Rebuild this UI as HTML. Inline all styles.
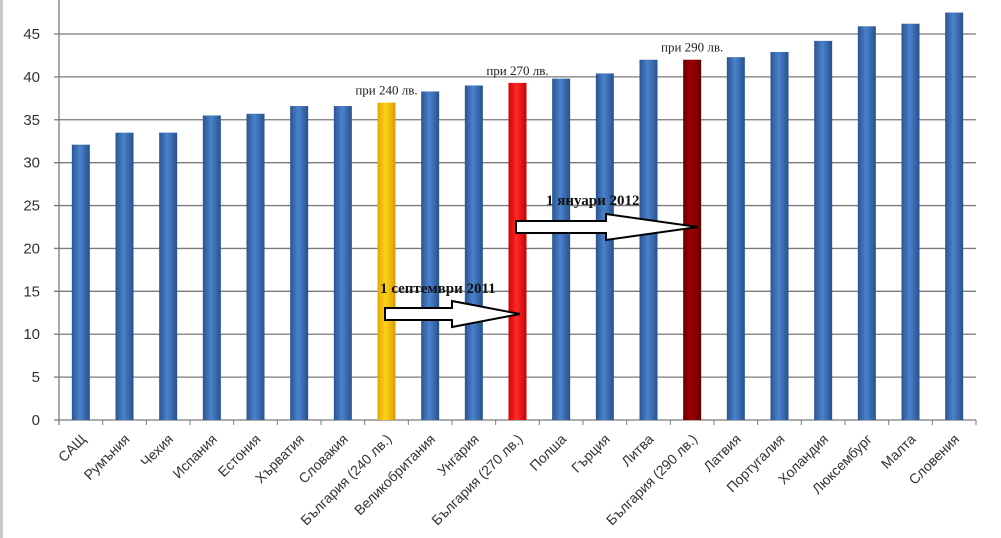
<!DOCTYPE html>
<html><head><meta charset="utf-8"><style>
body{margin:0;background:#fff;}
svg{display:block;font-family:"Liberation Sans","DejaVu Sans",sans-serif;}
</style></head><body>
<svg id="chart" width="1001" height="538">
<defs>
<linearGradient id="gb" x1="0" x2="1"><stop offset="0" stop-color="#2a5590"/><stop offset="0.45" stop-color="#4a82cc"/><stop offset="1" stop-color="#27518c"/></linearGradient>
<linearGradient id="gy" x1="0" x2="1"><stop offset="0" stop-color="#e0a800"/><stop offset="0.45" stop-color="#ffd21a"/><stop offset="1" stop-color="#d89c00"/></linearGradient>
<linearGradient id="gr" x1="0" x2="1"><stop offset="0" stop-color="#d40000"/><stop offset="0.45" stop-color="#ff2a2a"/><stop offset="1" stop-color="#c80000"/></linearGradient>
<linearGradient id="gd" x1="0" x2="1"><stop offset="0" stop-color="#6a0000"/><stop offset="0.45" stop-color="#a00000"/><stop offset="1" stop-color="#600000"/></linearGradient>
</defs>
<rect x="0" y="0" width="3" height="538" fill="#c8c8c8"/>
<g id="grid"></g><g id="bars"></g><g id="labels"></g>
</svg>
<script>
const categories=["САЩ","Румъния","Чехия","Испания","Естония","Хърватия","Словакия","България (240 лв.)","Великобритания","Унгария","България (270 лв.)","Полша","Гърция","Литва","България (290 лв.)","Латвия","Португалия","Холандия","Люксембург","Малта","Словения"];
const values=[32.1,33.5,33.5,35.5,35.7,36.6,36.6,37.0,38.3,39.0,39.3,39.8,40.4,42.0,42.0,42.3,42.9,44.2,45.9,46.2,47.5];
const fills=["gb","gb","gb","gb","gb","gb","gb","gy","gb","gb","gr","gb","gb","gb","gd","gb","gb","gb","gb","gb","gb"];
const yTicks=[0,5,10,15,20,25,30,35,40,45];
const notes=[{i:7,t:"при 240 лв."},{i:10,t:"при 270 лв."},{i:14,t:"при 290 лв."}];
const NS="http://www.w3.org/2000/svg";
const x0=59,x1=976,yBase=420,yTop=34,vMax=45;
const band=(x1-x0)/categories.length;
const y=v=>yBase-(v/vMax)*(yBase-yTop);
const xc=i=>x0+band*(i+0.5);
function mk(t,a,p){const e=document.createElementNS(NS,t);for(const k in a)e.setAttribute(k,a[k]);p.appendChild(e);return e;}
const grid=document.getElementById('grid'),bars=document.getElementById('bars'),lab=document.getElementById('labels');
yTicks.forEach(v=>{
 const l=mk('line',{x1:x0-5,x2:x1,y1:y(v),y2:y(v),stroke:'#7a7a7a','stroke-width':1.3},grid);
 
 
 const t=mk('text',{x:40,y:y(v)+5,'text-anchor':'end','font-size':15,fill:'#333'},grid);t.textContent=v;
 
 
});
const ax=mk('line',{x1:x0,x2:x0,y1:0,y2:yBase+5,stroke:'#7a7a7a','stroke-width':1.3},grid);


for(let i=0;i<=categories.length;i++){const tk=mk('line',{x1:x0+band*i,x2:x0+band*i,y1:yBase,y2:yBase+5,stroke:'#7a7a7a'},grid);
 
 }
categories.forEach((c,i)=>{
 const w=18,cx=xc(i);
 const r=mk('rect',{x:cx-w/2,y:y(values[i]),width:w,height:yBase-y(values[i]),fill:'url(#'+fills[i]+')'},bars);
 
 
 const t=mk('text',{x:cx+6,y:yBase+20,'text-anchor':'end','font-size':14,fill:'#333',transform:`rotate(-45 ${cx+6} ${yBase+20})`},lab);
 t.textContent=c;
 
 
});
notes.forEach(n=>{
 const t=mk('text',{x:xc(n.i),y:y(values[n.i])-8,'text-anchor':'middle','font-size':13,'font-family':'Liberation Serif,serif',fill:'#222'},lab);
 t.textContent=n.t;
 
 
});
function arrow(xa,xb,yc,hx,name){
 const p=mk('path',{d:`M${xa} ${yc-6} H${hx} V${yc-13} L${xb} ${yc} L${hx} ${yc+13} V${yc+6} H${xa} Z`,fill:'#fff',stroke:'#000','stroke-width':2},lab);
 
 
}
arrow(385,520,314,452,'arrow-sept-2011');
arrow(516,698,227,606,'arrow-jan-2012');
const a1=mk('text',{x:380,y:293,'font-size':15,'font-weight':'bold','font-family':'Liberation Serif,serif',fill:'#111'},lab);
a1.textContent="1 септември 2011";


const a2=mk('text',{x:546,y:205,'font-size':15,'font-weight':'bold','font-family':'Liberation Serif,serif',fill:'#111'},lab);
a2.textContent="1 януари 2012";


</script>
</body></html>
